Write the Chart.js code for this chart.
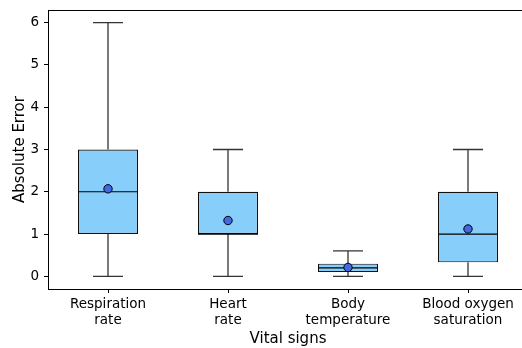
<!DOCTYPE html>
<html>
<head>
<meta charset="utf-8">
<script src="https://cdn.jsdelivr.net/npm/chart.js@4"></script>
<style>
html,body{margin:0;padding:0;background:#fff;overflow:hidden;width:522px;height:348px;}
#wrap{position:absolute;left:0;top:0;width:540px;height:348px;}
</style>
</head>
<body>
<div id="wrap"><canvas id="c"></canvas></div>
<script>
// ---- data ----
const categories = [['Respiration','rate'],['Heart','rate'],['Body','temperature'],['Blood oxygen','saturation']];
const whiskerLow  = [0, 0, 0, 0];
const q1          = [1, 1, 0.1, 0.33];
const median      = [2, 1, 0.2, 1];
const q3          = [3, 2, 0.3, 2];
const whiskerHigh = [6, 3, 0.6, 3];
const means       = [2.07, 1.32, 0.21, 1.12];
const yTicks      = [0, 1, 2, 3, 4, 5, 6];

const BOX_HALF = 0.25, CAP_HALF = 0.125;
const pos = categories.map((c, i) => i + 1);

const boxData = pos.map((x, i) => ({x, y: [q1[i], q3[i]]}));
const medianData = [], whiskerData = [], capData = [];
pos.forEach((x, i) => {
  medianData.push({x: x - BOX_HALF, y: median[i]}, {x: x + BOX_HALF, y: median[i]}, {x: x + BOX_HALF, y: null});
  whiskerData.push({x, y: whiskerLow[i]}, {x, y: q1[i]}, {x, y: null});
  whiskerData.push({x, y: q3[i]}, {x, y: whiskerHigh[i]}, {x, y: null});
  capData.push({x: x - CAP_HALF, y: whiskerLow[i]}, {x: x + CAP_HALF, y: whiskerLow[i]}, {x: x + CAP_HALF, y: null});
  capData.push({x: x - CAP_HALF, y: whiskerHigh[i]}, {x: x + CAP_HALF, y: whiskerHigh[i]}, {x: x + CAP_HALF, y: null});
});
const meanData = pos.map((x, i) => ({x, y: means[i]}));

const FONT = 'DejaVu Sans';
const lineDs = (data, order, color, w) => ({
  type: 'line', data, order, borderColor: color, borderWidth: w,
  pointRadius: 0, spanGaps: false, fill: false, tension: 0
});

const topSpine = {
  id: 'topSpine',
  afterDraw(chart) {
    const {ctx, chartArea} = chart;
    ctx.save();
    ctx.strokeStyle = '#000';
    ctx.lineWidth = 1;
    ctx.beginPath();
    const y = Math.round(chartArea.top) + 0.5;
    ctx.moveTo(chartArea.left, y);
    ctx.lineTo(chartArea.right, y);
    ctx.stroke();
    ctx.restore();
  }
};

new Chart(document.getElementById('c'), {
  type: 'bar',
  data: {
    datasets: [
      {type: 'scatter', data: meanData, order: 0, pointRadius: 4.2, pointBackgroundColor: '#4169E1',
       pointBorderColor: '#000', pointBorderWidth: 1},
      lineDs(medianData, 1, '#000', 1.2),
      lineDs(whiskerData, 2, '#333', 1.3),
      lineDs(capData, 2, '#333', 1.3),
      {type: 'bar', data: boxData, order: 3, backgroundColor: '#87CEFA', borderColor: '#111',
       borderWidth: 1.2, borderSkipped: false, barPercentage: 0.5, categoryPercentage: 1}
    ]
  },
  options: {
    responsive: true, maintainAspectRatio: false, animation: false,
    layout: {padding: {top: 10, right: 12, left: 0, bottom: 0}},
    plugins: {legend: {display: false}, tooltip: {enabled: false}},
    scales: {
      x: {
        type: 'linear', min: 0.5, max: 4.5, offset: false,
        afterBuildTicks: (s) => { s.ticks = pos.map(v => ({value: v})); },
        afterFit: (s) => { s.height = 59; s.paddingLeft = 0; s.paddingRight = 0; },
        ticks: {
          callback: (v) => categories[v - 1] || '',
          color: '#000', font: {family: FONT, size: 13.5, lineHeight: 1.15}, padding: 4,
          maxRotation: 0, autoSkip: false
        },
        grid: {offset: false, drawOnChartArea: false, drawTicks: true, tickLength: 4, color: '#000'},
        border: {display: true, color: '#000', width: 1},
        title: {display: true, text: 'Vital signs', color: '#000',
                font: {family: FONT, size: 15, lineHeight: 1.2}, padding: {top: 0, bottom: 0}}
      },
      y: {
        type: 'linear', min: -0.3, max: 6.3,
        afterBuildTicks: (s) => { s.ticks = yTicks.map(v => ({value: v})); },
        afterFit: (s) => { s.width = 48; s.paddingTop = 0; s.paddingBottom = 0; },
        ticks: {color: '#000', font: {family: FONT, size: 13.5}, padding: 5},
        grid: {drawOnChartArea: false, drawTicks: true, tickLength: 4, color: '#000'},
        border: {display: true, color: '#000', width: 1},
        title: {display: true, text: 'Absolute Error', color: '#000',
                font: {family: FONT, size: 15, lineHeight: 1.2}, padding: {top: 11, bottom: 0}}
      }
    }
  },
  plugins: [topSpine]
});
</script>
</body>
</html>
